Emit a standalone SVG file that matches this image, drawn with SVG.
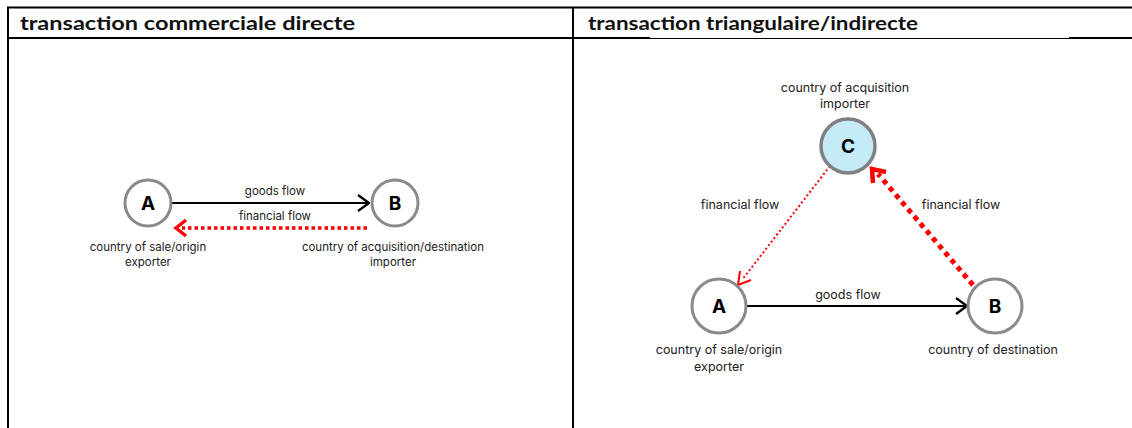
<svg xmlns="http://www.w3.org/2000/svg" width="1132" height="428" viewBox="0 0 1132 428">
<defs>
<style>
.hdr{font-family:Lato,"Liberation Sans",sans-serif;font-weight:bold;font-size:18px;fill:#111}
.lbl{font-family:Inter,"Liberation Sans",sans-serif;font-size:11.5px;fill:#222;text-anchor:middle}
.lbl2{font-family:Inter,"Liberation Sans",sans-serif;font-size:12.5px;fill:#222;text-anchor:middle}
.node{fill:#fff;stroke:#8a8a8a;stroke-width:3}
.nodec{fill:#c5ebf8;stroke:#808080;stroke-width:3.5}
.let{font-family:Inter,"Liberation Sans",sans-serif;font-weight:bold;font-size:19px;fill:#000;text-anchor:middle}
.goods{stroke:#000;stroke-width:2;fill:none}
.fin{stroke:#ff0000;fill:none}
</style>
<marker id="ab" viewBox="0 0 13 18" refX="12" refY="9" markerWidth="13" markerHeight="18" markerUnits="userSpaceOnUse" orient="auto">
<path d="M1,1 L12,9 L1,17" fill="none" stroke="#000" stroke-width="2.2"/>
</marker>
</defs>
<g id="table" stroke="#000" fill="none">
<line x1="7" y1="7.5" x2="1132" y2="7.5" stroke-width="2"/>
<line x1="7" y1="38" x2="650" y2="38" stroke-width="2"/>
<line x1="650" y1="38.5" x2="1069" y2="38.5" stroke-width="1"/>
<line x1="1069" y1="38" x2="1132" y2="38" stroke-width="2"/>
<line x1="8" y1="7" x2="8" y2="428" stroke-width="2"/>
<line x1="573" y1="7" x2="573" y2="428" stroke-width="2"/>
</g>
<text class="hdr" x="20" y="30" textLength="335" lengthAdjust="spacingAndGlyphs">transaction commerciale directe</text>
<text class="hdr" x="588" y="30" textLength="330" lengthAdjust="spacingAndGlyphs">transaction triangulaire/indirecte</text>
<g id="connectors">
<line class="goods" x1="172" y1="203" x2="369" y2="203" marker-end="url(#ab)"/>
<line class="fin" x1="367" y1="228" x2="182" y2="228" stroke-width="3.5" stroke-dasharray="3.5 3"/>
<path d="M186,220 L176,228 L186,236" fill="none" stroke="#ff0000" stroke-width="3.5"/>
<text class="lbl" x="275" y="195">goods flow</text>
<text class="lbl" x="275" y="220">financial flow</text>
<line class="goods" x1="746" y1="306" x2="967" y2="306" marker-end="url(#ab)"/>
<line class="fin" x1="830" y1="166" x2="742" y2="280" stroke-width="2" stroke-dasharray="2 2.5"/>
<path d="M740,271 L738,285 L751,280" fill="none" stroke="#ff0000" stroke-width="2"/>
<line class="fin" x1="973" y1="285" x2="878" y2="174" stroke-width="5" stroke-dasharray="5 4.5"/>
<path d="M873,183 L872,169 L886,172" fill="none" stroke="#ff0000" stroke-width="4.5"/>
<text class="lbl2" x="848" y="299">goods flow</text>
<text class="lbl2" x="740" y="209">financial flow</text>
<text class="lbl2" x="961" y="209">financial flow</text>
</g>
<g id="nodeA1">
<circle class="node" cx="148" cy="203" r="23"/>
<text class="let" x="148" y="210">A</text>
<text class="lbl" x="148" y="251">country of sale/origin</text>
<text class="lbl" x="148" y="266">exporter</text>
</g>
<g id="nodeB1">
<circle class="node" cx="395" cy="203" r="23"/>
<text class="let" x="395" y="210">B</text>
<text class="lbl" x="393" y="251">country of acquisition/destination</text>
<text class="lbl" x="393" y="266">importer</text>
</g>
<g id="nodeC">
<circle class="nodec" cx="848" cy="146" r="27"/>
<text class="let" x="848" y="153">C</text>
<text class="lbl2" x="845" y="92">country of acquisition</text>
<text class="lbl2" x="845" y="108">importer</text>
</g>
<g id="nodeA2">
<circle class="node" cx="719" cy="306" r="27"/>
<text class="let" x="719" y="313">A</text>
<text class="lbl2" x="719" y="354">country of sale/origin</text>
<text class="lbl2" x="719" y="371">exporter</text>
</g>
<g id="nodeB2">
<circle class="node" cx="995" cy="306" r="27"/>
<text class="let" x="995" y="313">B</text>
<text class="lbl2" x="993" y="354">country of destination</text>
</g>
</svg>
